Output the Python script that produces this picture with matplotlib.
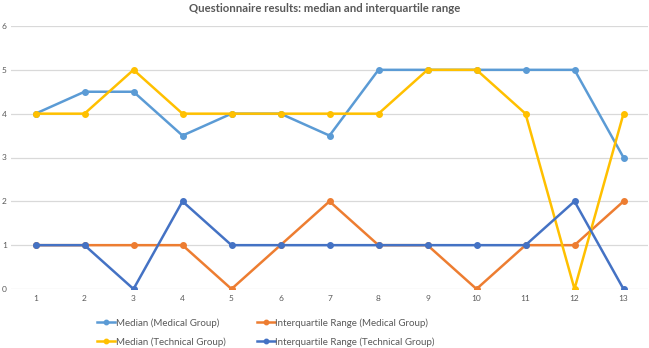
import matplotlib
matplotlib.use("Agg")
import matplotlib.pyplot as plt

plt.rcParams['font.family'] = ['Lato', 'DejaVu Sans']

questions = list(range(1, 14))
median_medical = [4, 4.5, 4.5, 3.5, 4, 4, 3.5, 5, 5, 5, 5, 5, 3]
iqr_medical = [1, 1, 1, 1, 0, 1, 2, 1, 1, 0, 1, 1, 2]
median_technical = [4, 4, 5, 4, 4, 4, 4, 4, 5, 5, 4, 0, 4]
iqr_technical = [1, 1, 0, 2, 1, 1, 1, 1, 1, 1, 1, 2, 0]

series = [
    ("Median (Medical Group)", median_medical, "#5B9BD5"),
    ("Interquartile Range (Medical Group)", iqr_medical, "#ED7D31"),
    ("Median (Technical Group)", median_technical, "#FFC000"),
    ("Interquartile Range (Technical Group)", iqr_technical, "#4472C4"),
]

fig = plt.figure(figsize=(6.49, 3.48), dpi=100)
ax = fig.add_axes([11/649, (348-289)/348, 637/649, (289-26)/348])

for label, vals, col in series:
    ax.plot(questions, vals, color=col, lw=1.8, marker='o', ms=4, label=label)

ax.set_xlim(0.5, 13.5)
ax.set_ylim(0, 6)
ax.set_xticks(questions)
ax.set_yticks(range(0, 7))
ax.grid(axis='y', color='#D9D9D9', lw=0.9)
ax.set_axisbelow(True)
for s in ax.spines.values():
    s.set_visible(False)
ax.tick_params(length=0, labelsize=6, colors='#595959', pad=4)
ax.tick_params(axis='y', pad=3)

fig.text(0.5, 1 - 9/348, "Questionnaire results: median and interquartile range",
         ha='center', va='center', fontsize=8.2, fontweight='bold', color='#595959')

handles, labels = ax.get_legend_handles_labels()
order = [0, 2, 1, 3]
fig.legend([handles[i] for i in order], [labels[i] for i in order], ncol=2,
           loc='center', bbox_to_anchor=(266/649, 1 - 332.5/348),
           frameon=False, fontsize=7, labelcolor='#595959', handlelength=1.85,
           handletextpad=0.05, columnspacing=3.2, labelspacing=0.95, markerscale=0.8,
           borderpad=0)

fig.savefig("out.png", dpi=100)
